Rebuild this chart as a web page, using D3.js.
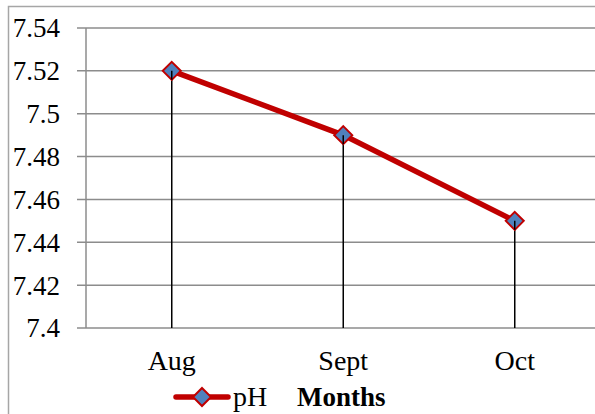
<!DOCTYPE html>
<html><head><meta charset="utf-8">
<script src="https://cdn.jsdelivr.net/npm/d3@7"></script>
<style>html,body{margin:0;padding:0;background:#fff;}svg{display:block;}</style>
</head><body>
<script>
const months = ["Aug", "Sept", "Oct"];
const phValues = [7.52, 7.49, 7.45];
const yTicks = [7.4, 7.42, 7.44, 7.46, 7.48, 7.5, 7.52, 7.54];
const seriesName = "pH";
const axisTitle = "Months";

(function () {
const W = 595, H = 414;
const svg = d3.select("body").append("svg").attr("width", W).attr("height", H);
const font = "'Liberation Serif', 'Times New Roman', serif";

// outer border
svg.append("rect").attr("x", 8.5).attr("y", 6.5).attr("width", W + 10).attr("height", H + 10)
  .attr("fill", "none").attr("stroke", "#a6a6a6").attr("stroke-width", 1.5);

const mLeft = 86, mTop = 28, mBottom = 328, mRight = 600.5;
const x = d3.scaleBand().domain(months).range([mLeft, mRight]);
const y = d3.scaleLinear().domain([7.4, 7.54]).range([mBottom, mTop]);

// gridlines
svg.append("g").selectAll("line").data(yTicks).join("line")
  .attr("x1", mLeft - 9).attr("x2", W).attr("y1", d => y(d)).attr("y2", d => y(d))
  .attr("stroke", "#8c8c8c").attr("stroke-width", 1.5);

// y axis line
svg.append("line").attr("x1", mLeft).attr("x2", mLeft).attr("y1", mTop).attr("y2", mBottom)
  .attr("stroke", "#8c8c8c").attr("stroke-width", 1.5);

// y labels
svg.append("g").selectAll("text").data(yTicks).join("text")
  .attr("x", 60).attr("y", d => y(d)).attr("dy", "0.35em")
  .attr("text-anchor", "end").attr("font-family", font).attr("font-size", 27)
  .attr("fill", "#000").text(d => String(+d.toFixed(2)));

// x labels
svg.append("g").selectAll("text").data(months).join("text")
  .attr("x", d => x(d) + x.bandwidth() / 2).attr("y", 370)
  .attr("text-anchor", "middle").attr("font-family", font).attr("font-size", 28)
  .attr("fill", "#000").text(d => d);

const pts = months.map((m, i) => ({ m, v: phValues[i] }));
const cx = d => x(d.m) + x.bandwidth() / 2;

// drop lines
svg.append("g").selectAll("line").data(pts).join("line")
  .attr("x1", cx).attr("x2", cx).attr("y1", d => y(d.v)).attr("y2", mBottom)
  .attr("stroke", "#000").attr("stroke-width", 1.5);

// line
svg.append("path").datum(pts)
  .attr("d", d3.line().x(cx).y(d => y(d.v)))
  .attr("fill", "none").attr("stroke", "#c00000").attr("stroke-width", 5.5);

function drawDiamond(g, px, py) {
  g.append("path").attr("d", "M0,-9L9,0L0,9L-9,0Z")
    .attr("transform", `translate(${px},${py})`)
    .attr("fill", "#4f81bd").attr("stroke", "#c00000").attr("stroke-width", 2);
}
const mg = svg.append("g");
pts.forEach(d => drawDiamond(mg, cx(d), y(d.v)));
svg.append("g").selectAll("line").data(pts).join("line")
  .attr("x1", cx).attr("x2", cx).attr("y1", d => y(d.v)).attr("y2", d => y(d.v) + 9)
  .attr("stroke", "#000").attr("stroke-width", 1.5);

// legend
const lg = svg.append("g");
lg.append("line").attr("x1", 176).attr("x2", 228).attr("y1", 397).attr("y2", 397)
  .attr("stroke", "#c00000").attr("stroke-width", 5.5).attr("stroke-linecap", "round");
drawDiamond(lg, 202, 397);
lg.append("text").attr("x", 233).attr("y", 406).attr("font-family", font).attr("font-size", 28)
  .attr("fill", "#000").text(seriesName);
lg.append("text").attr("x", 297).attr("y", 406).attr("font-family", font).attr("font-size", 27)
  .attr("font-weight", "bold").attr("fill", "#000").text(axisTitle);
})();
</script>
</body></html>
